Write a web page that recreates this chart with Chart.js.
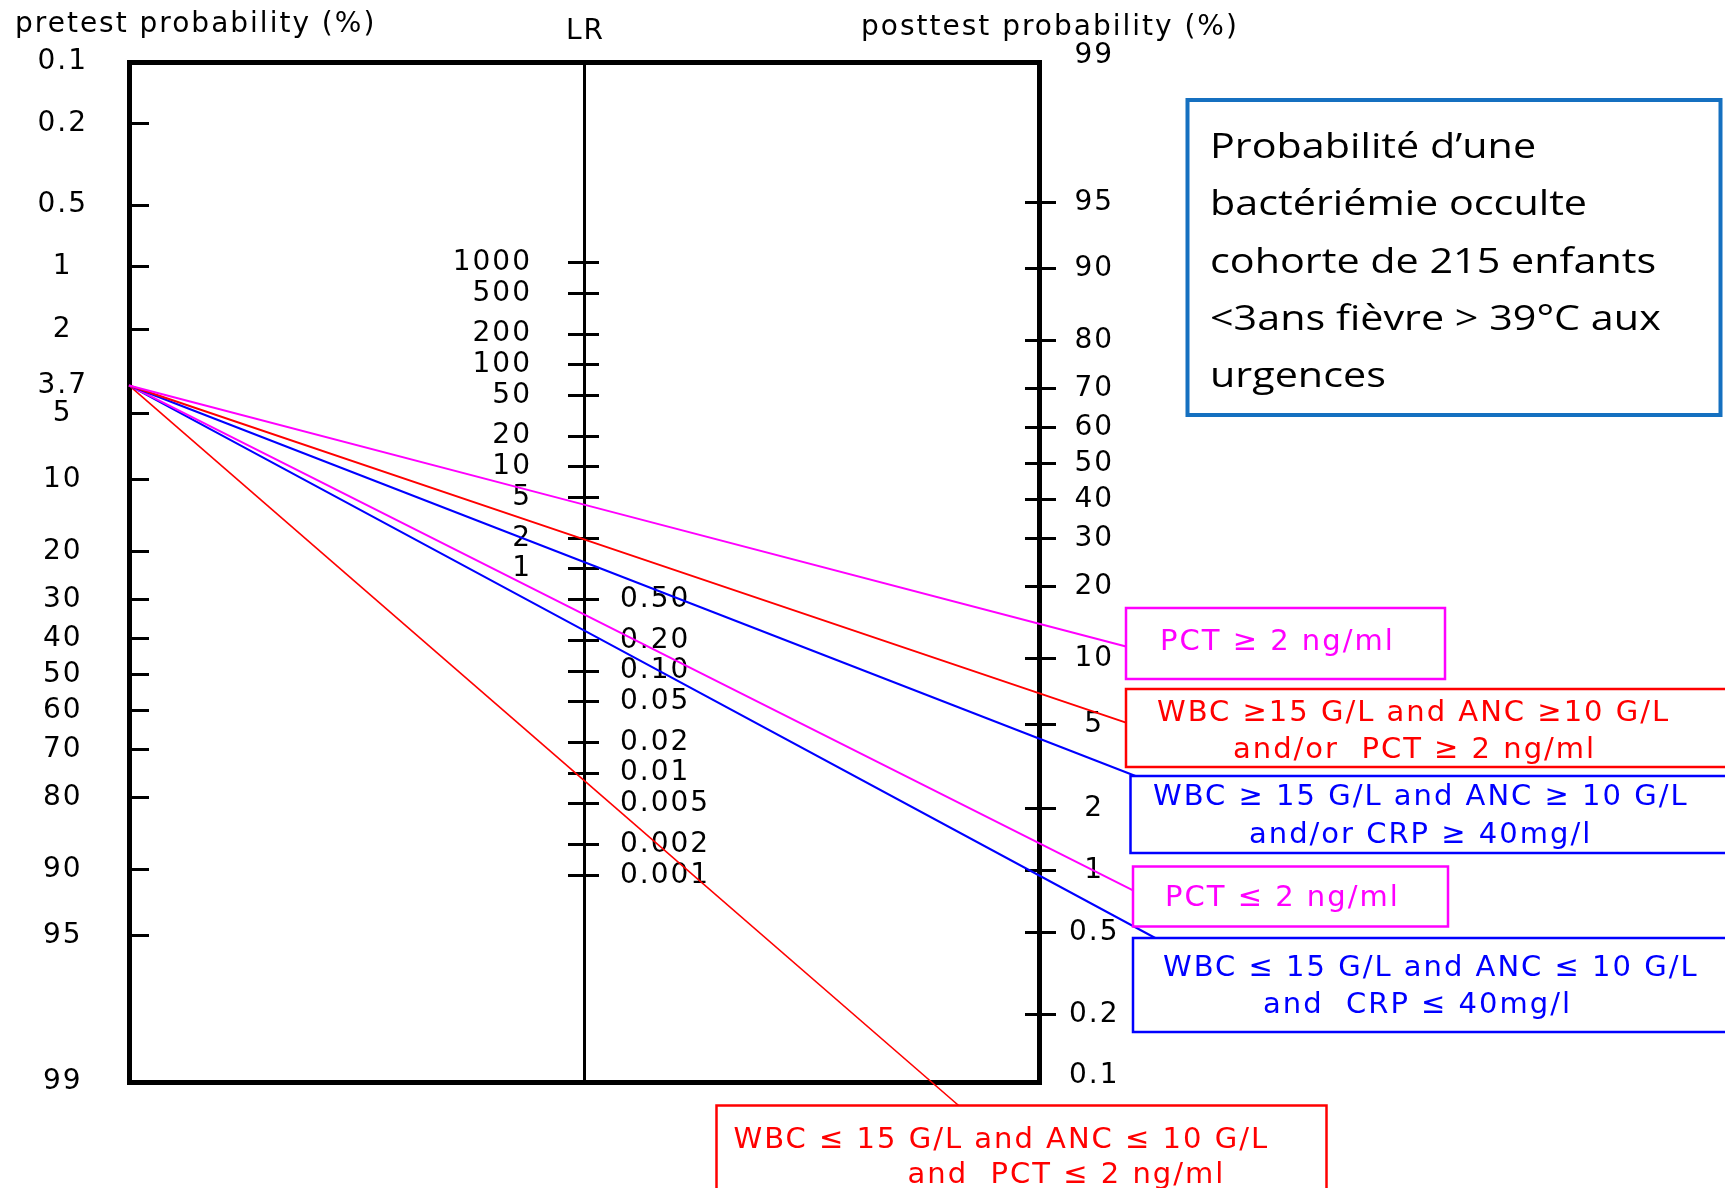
<!DOCTYPE html>
<html lang="fr">
<head>
<meta charset="utf-8">
<title>Nomogramme de Fagan – bactériémie occulte</title>
<script src="https://cdn.jsdelivr.net/npm/chart.js@4/dist/chart.umd.min.js"></script>
<style>
  html, body { margin: 0; padding: 0; background: #ffffff; overflow: hidden; }
  canvas { display: block; }
</style>
</head>
<body>
<canvas id="nomogram" width="1725" height="1188"></canvas>
<script>
// ---------------- data ----------------
const pretestProbability = 3.7;                 // %
const testLabels = [
  ['PCT ≥ 2 ng/ml'],
  ['WBC ≥15 G/L and ANC ≥10 G/L', 'and/or  PCT ≥ 2 ng/ml'],
  ['WBC ≥ 15 G/L and ANC ≥ 10 G/L', 'and/or CRP ≥ 40mg/l'],
  ['PCT ≤ 2 ng/ml'],
  ['WBC ≤ 15 G/L and ANC ≤ 10 G/L', 'and  CRP ≤ 40mg/l'],
  ['WBC ≤ 15 G/L and ANC ≤ 10 G/L', 'and  PCT ≤ 2 ng/ml']
];
const likelihoodRatios = [4.27, 1.95, 1.17, 0.36, 0.25, 0.0085];
const pretestTicks  = [0.1, 0.2, 0.5, 1, 2, 3.7, 5, 10, 20, 30, 40, 50, 60, 70, 80, 90, 95, 99];
const lrTicks       = [1000, 500, 200, 100, 50, 20, 10, 5, 2, 1, 0.5, 0.2, 0.1, 0.05, 0.02, 0.01, 0.005, 0.002, 0.001];
const lrTickLabels  = ['1000', '500', '200', '100', '50', '20', '10', '5', '2', '1',
                       '0.50', '0.20', '0.10', '0.05', '0.02', '0.01', '0.005', '0.002', '0.001'];
const posttestTicks = [99, 95, 90, 80, 70, 60, 50, 40, 30, 20, 10, 5, 2, 1, 0.5, 0.2, 0.1];
const axisHeaderTexts = ['pretest probability (%)', 'LR', 'posttest probability (%)'];
const titleLines = ['Probabilité d’une', 'bactériémie occulte', 'cohorte de 215 enfants',
                    '<3ans fièvre > 39°C aux', 'urgences'];

// ---------------- styles / layout ----------------
const seriesColors = ['#ff00ff', '#ff0000', '#0000ff', '#ff00ff', '#0000ff', '#ff0000'];
const seriesWidths = [2, 2, 2, 2, 2, 1.6];
const W = 1725, H = 1188;
const AREA = { left: 129, right: 1039, top: 62, bottom: 1082 };
const RIGHT_OFFSET = 2.38;             // vertical offset of the posttest scale (logit units)
const headerPos = [[15, 25], [566, 32], [861, 28]];
const labelBoxes = [
  { x: 1126,   y: 608,    w: 319, h: 71,  text: [[1160, 642]] },
  { x: 1126,   y: 689,    w: 700, h: 78,  text: [[1157, 713], [1233, 750]] },
  { x: 1130.5, y: 776,    w: 700, h: 77,  text: [[1153, 797], [1249, 835]] },
  { x: 1133,   y: 866.5,  w: 315, h: 60,  text: [[1165, 898]] },
  { x: 1133,   y: 938,    w: 700, h: 94,  text: [[1163, 968], [1263, 1005]] },
  { x: 716.5,  y: 1105.5, w: 610, h: 200, text: [[733.5, 1140], [907.6, 1175]] }
];
const titleBox = { x: 1187.5, y: 100, w: 533, h: 315, textX: 1210, baseline0: 158.3, step: 57.1, stretch: 1.18 };
const AXIS_FONT = { family: 'DejaVu Sans', size: 28 };

// ---------------- nomogram scale transforms ----------------
const logit = p => Math.log(p / (100 - p));
const uPre  = p => -logit(p);
const uPost = p => logit(p) + RIGHT_OFFSET;
const uLR   = lr => (Math.log(lr) + RIGHT_OFFSET) / 2;
const U_TOP = uPre(pretestTicks[0]);
const U_BOTTOM = uPre(pretestTicks[pretestTicks.length - 1]);
const pxToX = px => (px - AREA.left) / (AREA.right - AREA.left) * 2;
const pxToU = py => U_TOP - (py - AREA.top) / (AREA.bottom - AREA.top) * (U_TOP - U_BOTTOM);

// ---------------- datasets ----------------
const datasets = likelihoodRatios.map((lr, i) => {
  const u0 = uPre(pretestProbability);
  const u1 = uLR(lr);
  const slope = u1 - u0;
  const box = labelBoxes[i];
  let xe = pxToX(box.x);
  let ue = u0 + slope * xe;
  const uTop = pxToU(box.y);
  if (ue > uTop) { xe = (uTop - u0) / slope; ue = uTop; }
  return {
    label: testLabels[i].join(' '),
    data: [{ x: 0, y: u0 }, { x: 1, y: u1 }, { x: xe, y: ue }],
    borderColor: seriesColors[i],
    backgroundColor: seriesColors[i],
    borderWidth: seriesWidths[i],
    showLine: true,
    pointRadius: 0,
    tension: 0,
    clip: false,
    xAxisID: 'x',
    yAxisID: 'u'
  };
});

// ---------------- custom scale: mid axis whose labels sit beside the axis line ----------------
const LinearScale = Chart.LinearScale || Chart.registry.getScale('linear');
class MidAxisScale extends LinearScale {
  _computeLabelItems(chartArea) {
    const items = super._computeLabelItems(chartArea);
    const grid = this.options.grid;
    const tl = grid.display && grid.drawTicks ? grid.tickLength : 0;
    const shift = -(tl + this.options.ticks.padding);
    items.forEach(it => {
      it.options.translation[0] += shift;
      it.options.textAlign = shift < 0 ? 'right' : 'left';
    });
    return items;
  }
}
MidAxisScale.id = 'midAxis';
MidAxisScale.defaults = {};
Chart.register(MidAxisScale);

const hiddenTick = (values, isHidden) => ctx =>
  isHidden(values[ctx.index]) ? 'rgba(0,0,0,0)' : '#000';
const noEndPadding = s => { s.paddingTop = 0; s.paddingBottom = 0; };

// ---------------- decorations plugin ----------------
const decorations = {
  id: 'nomogramDecorations',
  beforeDraw(chart) {
    const ctx = chart.ctx;
    ctx.save();
    ctx.fillStyle = '#ffffff';
    ctx.fillRect(0, 0, chart.width, chart.height);
    ctx.restore();
    ctx.letterSpacing = '2px';
  },
  afterDraw(chart) {
    const ctx = chart.ctx;
    ctx.save();
    ctx.letterSpacing = '2px';
    ctx.textBaseline = 'middle';
    ctx.textAlign = 'left';
    ctx.fillStyle = '#000';
    ctx.font = '28px "DejaVu Sans"';
    axisHeaderTexts.forEach((t, i) => ctx.fillText(t, headerPos[i][0], headerPos[i][1]));

    ctx.font = '29px "DejaVu Sans"';
    labelBoxes.forEach((b, i) => {
      ctx.fillStyle = '#ffffff';
      ctx.fillRect(b.x, b.y, b.w, b.h);
      ctx.strokeStyle = seriesColors[i];
      ctx.lineWidth = 2.5;
      ctx.strokeRect(b.x, b.y, b.w, b.h);
      ctx.fillStyle = seriesColors[i];
      testLabels[i].forEach((line, j) => ctx.fillText(line, b.text[j][0], b.text[j][1]));
    });

    ctx.letterSpacing = '0px';
    ctx.strokeStyle = '#1570c0';
    ctx.lineWidth = 4;
    ctx.strokeRect(titleBox.x, titleBox.y, titleBox.w, titleBox.h);
    ctx.fillStyle = '#000';
    ctx.font = '35px "Open Sans"';
    ctx.textBaseline = 'alphabetic';
    titleLines.forEach((t, i) => {
      ctx.save();
      ctx.translate(titleBox.textX, titleBox.baseline0 + i * titleBox.step);
      ctx.scale(titleBox.stretch, 1);
      ctx.fillText(t, 0, 0);
      ctx.restore();
    });
    ctx.restore();
  }
};

// ---------------- chart ----------------
const frameBorder = { display: true, width: 5, color: '#000' };
new Chart(document.getElementById('nomogram'), {
  type: 'scatter',
  data: { datasets },
  plugins: [decorations],
  options: {
    responsive: false,
    animation: false,
    events: [],
    layout: {
      autoPadding: false,
      padding: { left: 0, right: W - AREA.right - 100, top: AREA.top, bottom: H - AREA.bottom }
    },
    plugins: { legend: { display: false }, tooltip: { enabled: false } },
    scales: {
      x: {
        type: 'linear', axis: 'x', position: 'bottom', min: 0, max: 2,
        ticks: { display: false }, grid: { display: false, lineWidth: 5 }, border: frameBorder,
        afterFit: s => { s.height = 0; }
      },
      xTop: {
        type: 'linear', axis: 'x', position: 'top', min: 0, max: 2,
        ticks: { display: false }, grid: { display: false, lineWidth: 5 }, border: frameBorder,
        afterFit: s => { s.height = 0; }
      },
      u: { type: 'linear', axis: 'y', display: false, min: U_BOTTOM, max: U_TOP },
      pre: {
        type: 'linear', axis: 'y', position: 'left', min: U_BOTTOM, max: U_TOP, bounds: 'data',
        afterBuildTicks: s => { s.ticks = pretestTicks.map(p => ({ value: uPre(p) })); },
        ticks: {
          autoSkip: false, font: AXIS_FONT, color: '#000', crossAlign: 'center', padding: 64,
          callback: (v, i) => String(pretestTicks[i])
        },
        grid: {
          display: true, drawOnChartArea: false, drawTicks: true, tickLength: -20, tickWidth: 3, lineWidth: 5,
          tickColor: hiddenTick(pretestTicks, p => p === pretestProbability || p === pretestTicks[0] ||
                                                   p === pretestTicks[pretestTicks.length - 1])
        },
        border: frameBorder,
        afterFit: s => { s.width = AREA.left; noEndPadding(s); }
      },
      post: {
        type: 'linear', axis: 'y', position: 'right', min: U_BOTTOM, max: U_TOP, bounds: 'data',
        afterBuildTicks: s => { s.ticks = posttestTicks.map(p => ({ value: uPost(p) })); },
        ticks: {
          autoSkip: false, font: AXIS_FONT, color: '#000', crossAlign: 'center', padding: 16,
          callback: (v, i) => String(posttestTicks[i])
        },
        grid: {
          display: true, drawOnChartArea: false, drawTicks: true, tickLength: 17, tickWidth: 3, lineWidth: 5,
          tickColor: hiddenTick(posttestTicks, p => p === posttestTicks[0] || p === posttestTicks[posttestTicks.length - 1])
        },
        border: frameBorder,
        afterFit: s => { s.width = 100; noEndPadding(s); }
      },
      postIn: {
        type: 'linear', axis: 'y', position: { x: 2 }, min: U_BOTTOM, max: U_TOP, bounds: 'data',
        afterBuildTicks: s => { s.ticks = posttestTicks.map(p => ({ value: uPost(p) })); },
        ticks: { display: false, autoSkip: false },
        grid: {
          display: true, drawOnChartArea: false, drawTicks: true, tickLength: 14, tickWidth: 3,
          tickColor: hiddenTick(posttestTicks, p => p === posttestTicks[0] || p === posttestTicks[posttestTicks.length - 1])
        },
        border: { display: false },
        afterFit: noEndPadding
      },
      lrHi: {
        type: 'midAxis', axis: 'y', position: { x: 1 }, min: U_BOTTOM, max: U_TOP, bounds: 'data',
        afterBuildTicks: s => { s.ticks = lrTicks.map(lr => ({ value: uLR(lr) })); },
        ticks: {
          autoSkip: false, font: AXIS_FONT, color: '#000', padding: 37,
          callback: (v, i) => (lrTicks[i] >= 1 ? lrTickLabels[i] : '')
        },
        grid: { display: true, drawOnChartArea: false, drawTicks: true, tickLength: 15, tickWidth: 3, tickColor: '#000' },
        border: { display: true, width: 3, color: '#000' },
        afterFit: noEndPadding
      },
      lrLo: {
        type: 'midAxis', axis: 'y', position: { x: 1 }, min: U_BOTTOM, max: U_TOP, bounds: 'data',
        afterBuildTicks: s => { s.ticks = lrTicks.map(lr => ({ value: uLR(lr) })); },
        ticks: {
          autoSkip: false, font: AXIS_FONT, color: '#000', padding: -21,
          callback: (v, i) => (lrTicks[i] < 1 ? lrTickLabels[i] : '')
        },
        grid: { display: true, drawOnChartArea: false, drawTicks: true, tickLength: -15, tickWidth: 3, tickColor: '#000' },
        border: { display: false },
        afterFit: noEndPadding
      }
    }
  }
});
</script>
</body>
</html>
